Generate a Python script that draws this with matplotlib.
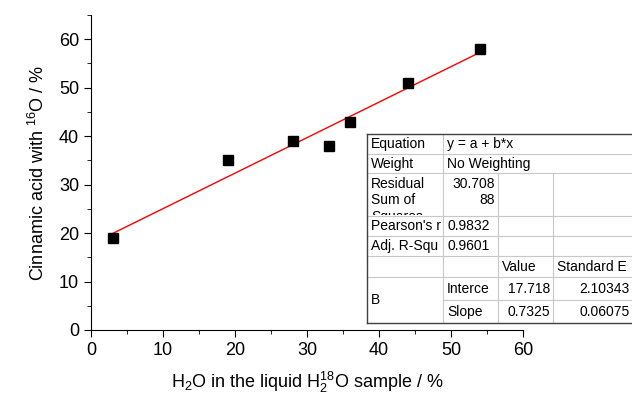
import numpy as np
import matplotlib.pyplot as plt
from matplotlib.lines import Line2D
from matplotlib.patches import Rectangle
from matplotlib.ticker import MultipleLocator
from matplotlib.transforms import Bbox, TransformedBbox

plt.rcParams['font.family'] = ['Liberation Sans', 'DejaVu Sans']
plt.rcParams['mathtext.default'] = 'regular'

# dane pomiarowe
x_h2o = [3, 19, 28, 33, 36, 44, 54]
y_cinn = [19, 35, 39, 38, 43, 51, 58]

# wynik dopasowania liniowego
intercept = 17.718
slope = 0.7325

# zawartość tabeli
eq_text = 'y = a + b*x'
weight_text = 'No Weighting'
rss_text = ['30.708', '88']
pearson_text = '0.9832'
adj_r2_text = '0.9601'
param_names = ['Interce', 'Slope']
param_values = ['17.718', '0.7325']
param_errors = ['2.10343', '0.06075']

W, H = 632, 403
fig = plt.figure(figsize=(W / 100, H / 100), dpi=100)
ax = fig.add_axes([91 / W, (H - 330) / H, (523 - 91) / W, (330 - 15) / H])

ax.plot(x_h2o, y_cinn, 's', color='black', markersize=7, zorder=3)
xf = np.array([min(x_h2o), max(x_h2o)])
ax.plot(xf, intercept + slope * xf, color='red', linewidth=1)

ax.set_xlim(0, 60)
ax.set_ylim(0, 65)
ax.xaxis.set_major_locator(MultipleLocator(10))
ax.xaxis.set_minor_locator(MultipleLocator(5))
ax.yaxis.set_major_locator(MultipleLocator(10))
ax.yaxis.set_minor_locator(MultipleLocator(5))
for s in ['top', 'right']:
    ax.spines[s].set_visible(False)
ax.tick_params(which='major', length=5, labelsize=13, direction='out')
ax.tick_params(which='minor', length=3, direction='out')
ax.set_xlabel('H$_2$O in the liquid H$_2^{18}$O sample / %', fontsize=13, labelpad=8)
ax.set_ylabel('Cinnamic acid with $^{16}$O / %', fontsize=13, labelpad=8)


# tabela w pikselach
def fx(px):
    return px / W


def fy(py):
    return 1 - py / H


def hline(x0, x1, y, color='#c8c8c8', lw=0.8):
    fig.add_artist(Line2D([fx(x0), fx(x1)], [fy(y), fy(y)], color=color, lw=lw))


def vline(x, y0, y1, color='#c8c8c8', lw=0.8):
    fig.add_artist(Line2D([fx(x), fx(x)], [fy(y0), fy(y1)], color=color, lw=lw))


def txt(x, y, s, ha='left'):
    return fig.text(fx(x), fy(y), s, ha=ha, va='center', fontsize=10)


L, R, T, B = 367, 640, 134, 323
c1, c2, c3 = 443, 498, 553
rows = [134, 154, 173, 216, 236, 256, 277, 300, 323]

fig.add_artist(Rectangle((fx(L), fy(B)), fx(R) - fx(L), fy(T) - fy(B),
                         facecolor='white', edgecolor='none', zorder=0))
for r in rows[1:-1]:
    if r == 300:
        hline(c1, R, r)
    else:
        hline(L, R, r)
vline(c1, T, B)
vline(c2, 173, B)
vline(c3, 173, B)
# ramka
hline(L, R, T, color='#404040', lw=1)
hline(L, R, B, color='#404040', lw=1)
vline(L, T, B, color='#404040', lw=1)

txt(371, 144, 'Equation')
txt(447, 144, eq_text)
txt(371, 164, 'Weight')
txt(447, 164, weight_text)
txt(371, 184, 'Residual')
txt(371, 200, 'Sum of')
# obcięty trzeci wiersz komórki
t = txt(371, 217, 'Squares')
t.set_clip_on(True)
t.set_clip_box(TransformedBbox(Bbox([[fx(L), fy(215)], [fx(c1), fy(173)]]), fig.transFigure))
txt(495, 184, rss_text[0], ha='right')
txt(495, 200, rss_text[1], ha='right')
txt(371, 226, "Pearson's r")
txt(447, 226, pearson_text)
txt(371, 246, 'Adj. R-Squ')
txt(447, 246, adj_r2_text)
txt(502, 267, 'Value')
txt(557, 267, 'Standard E')
txt(371, 300, 'B')
for i, yy in enumerate([289, 312]):
    txt(447, yy, param_names[i])
    txt(550, yy, param_values[i], ha='right')
    txt(630, yy, param_errors[i], ha='right')

fig.savefig('out.png', dpi=100)
